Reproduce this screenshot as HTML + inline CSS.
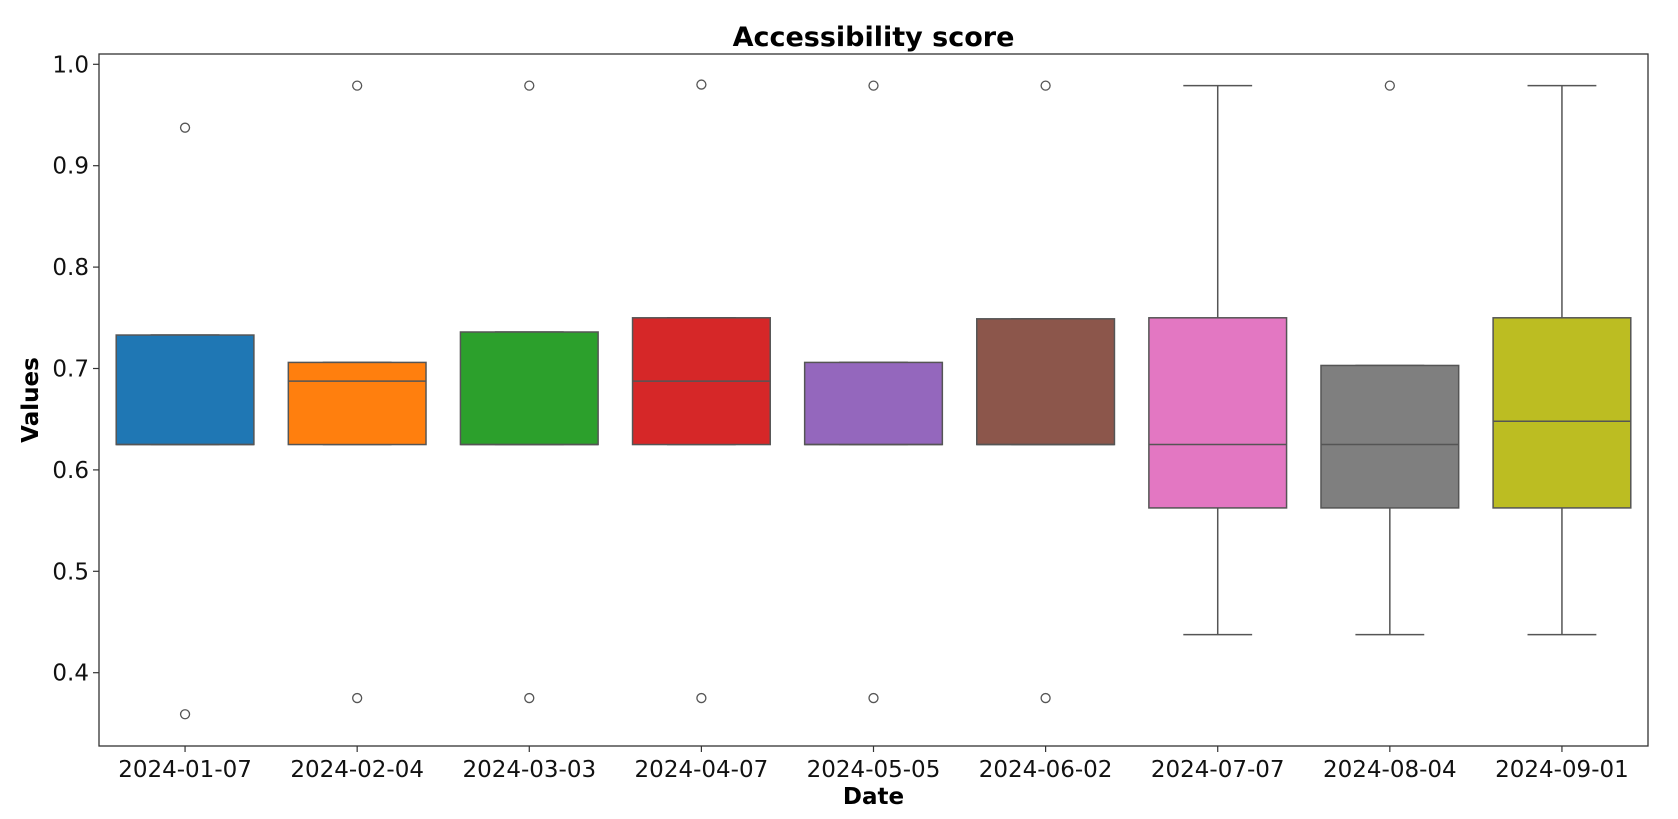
<!DOCTYPE html>
<html><head><meta charset="utf-8"><style>
body{margin:0;background:#fff;}
svg{display:block;font-family:"DejaVu Sans","Liberation Sans",sans-serif;}
</style></head><body>
<svg id="chart" width="1678" height="819"></svg>
<script>
const categories=["2024-01-07","2024-02-04","2024-03-03","2024-04-07","2024-05-05","2024-06-02","2024-07-07","2024-08-04","2024-09-01"];
const q1Values=[0.625,0.625,0.625,0.625,0.625,0.625,0.5625,0.5625,0.5625];
const medianValues=[0.625,0.6875,0.625,0.6875,0.625,0.625,0.625,0.625,0.648];
const q3Values=[0.733,0.706,0.736,0.75,0.706,0.749,0.75,0.703,0.75];
const lowWhiskers=[0.625,0.625,0.625,0.625,0.625,0.625,0.4375,0.4375,0.4375];
const highWhiskers=[0.733,0.706,0.736,0.75,0.706,0.749,0.979,0.703,0.979];
const outlierValues=[[0.9375,0.359],[0.979,0.375],[0.979,0.375],[0.98,0.375],[0.979,0.375],[0.979,0.375],[],[0.979],[]];
const colors=["#1f77b4","#ff7f0e","#2ca02c","#d62728","#9467bd","#8c564b","#e377c2","#7f7f7f","#bcbd22"];
const yTicks=[0.4,0.5,0.6,0.7,0.8,0.9,1.0];
const yTickLabels=["0.4","0.5","0.6","0.7","0.8","0.9","1.0"];

const L=99,R=1648,T=54,B=746;
const y=v=>64.3+(1.0-v)*1014;
const band=(R-L)/categories.length;
const x=i=>L+band*(i+0.5);
const svg=document.getElementById('chart');
const NS="http://www.w3.org/2000/svg";
function mk(tag,attrs,parent){const e=document.createElementNS(NS,tag);for(const k in attrs)e.setAttribute(k,attrs[k]);(parent||svg).appendChild(e);return e;}

let t=mk('text',{x:(L+R)/2,y:46,'text-anchor':'middle','font-size':27,'font-weight':'bold',fill:'#000'});
t.textContent="Accessibility score";



yTicks.forEach((v,i)=>{
  const g=mk('g',{});
  
  
  mk('line',{x1:L-6,x2:L,y1:y(v),y2:y(v),stroke:'#333','stroke-width':1.2},g);
  const tx=mk('text',{x:L-10,y:y(v)+8,'text-anchor':'end','font-size':23,fill:'#111'},g);
  tx.textContent=yTickLabels[i];
});

categories.forEach((c,i)=>{
  const g=mk('g',{});
  
  
  const cx=x(i),w=band*0.8,cw=w/2;
  mk('line',{x1:cx,x2:cx,y1:y(highWhiskers[i]),y2:y(q3Values[i]),stroke:'#555','stroke-width':1.5},g);
  mk('line',{x1:cx,x2:cx,y1:y(q1Values[i]),y2:y(lowWhiskers[i]),stroke:'#555','stroke-width':1.5},g);
  mk('line',{x1:cx-cw/2,x2:cx+cw/2,y1:y(highWhiskers[i]),y2:y(highWhiskers[i]),stroke:'#555','stroke-width':1.5},g);
  mk('line',{x1:cx-cw/2,x2:cx+cw/2,y1:y(lowWhiskers[i]),y2:y(lowWhiskers[i]),stroke:'#555','stroke-width':1.5},g);
  mk('rect',{x:cx-w/2,y:y(q3Values[i]),width:w,height:y(q1Values[i])-y(q3Values[i]),fill:colors[i],stroke:'#555','stroke-width':1.5},g);
  mk('line',{x1:cx-w/2,x2:cx+w/2,y1:y(medianValues[i]),y2:y(medianValues[i]),stroke:'#555','stroke-width':1.5},g);
  outlierValues[i].forEach(v=>{
    const o=mk('circle',{cx:cx,cy:y(v),r:4.5,fill:'none',stroke:'#555','stroke-width':1.3},g);
    
    
  });
  mk('line',{x1:cx,x2:cx,y1:B,y2:B+6,stroke:'#333','stroke-width':1.2},g);
  const tx=mk('text',{x:cx,y:B+31,'text-anchor':'middle','font-size':23,fill:'#111'},g);
  tx.textContent=c;
});

const fr=mk('rect',{x:L,y:T,width:R-L,height:B-T,fill:'none',stroke:'#333','stroke-width':1.3});



let xl=mk('text',{x:(L+R)/2,y:804,'text-anchor':'middle','font-size':23,'font-weight':'bold',fill:'#000'});
xl.textContent="Date";


let yl=mk('text',{x:0,y:0,'text-anchor':'middle','font-size':23,'font-weight':'bold',fill:'#000',transform:'translate(38,'+((T+B)/2)+') rotate(-90)'});
yl.textContent="Values";


</script>
</body></html>
